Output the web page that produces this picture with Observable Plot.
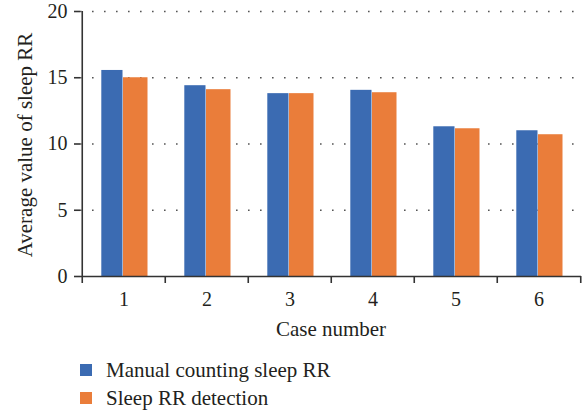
<!DOCTYPE html>
<html><head><meta charset="utf-8">
<script src="https://cdn.jsdelivr.net/npm/d3@7"></script>
<script src="https://cdn.jsdelivr.net/npm/@observablehq/plot@0.6"></script>
<style>
body{margin:0;background:#fff;font-family:"Liberation Serif",serif;}
#legend{margin-left:80px;margin-top:6px;font-size:21px;line-height:28px;color:#231f20}
.item{display:flex;align-items:center;height:28px}
.sw{width:12px;height:12px;margin-right:14px}
</style></head><body>
<div id="chart"></div>
<div id="legend"></div>
<script>
const cases = ["1","2","3","4","5","6"];
const manual = [15.55, 14.4, 13.8, 14.05, 11.3, 11.0];
const detection = [15.0, 14.1, 13.8, 13.87, 11.15, 10.7];
const seriesNames = ["Manual counting sleep RR", "Sleep RR detection"];
const colors = ["#3b6bb2", "#ea7d3a"];
const yTicks = [0, 5, 10, 15, 20];
const gridTicks = [5, 10, 15, 20];
const xLabel = "Case number";
const yLabel = "Average value of sleep RR";

const data = cases.flatMap((c, i) => [
  {case: c, series: seriesNames[0], value: manual[i]},
  {case: c, series: seriesNames[1], value: detection[i]}
]);

const W = 583, ML = 80, MR = 2;
const bw = (W - ML - MR) / cases.length;
const axisColor = "#333";

const chart = Plot.plot({
  width: W, height: 350,
  marginLeft: ML, marginRight: MR, marginTop: 11, marginBottom: 74,
  style: {fontFamily: "Liberation Serif", fontSize: "20px", color: "#231f20", background: "#fff"},
  x: {domain: cases, padding: 0},
  y: {domain: [0, 20]},
  color: {domain: seriesNames, range: colors},
  marks: [
    Plot.ruleY(gridTicks, {stroke: "#555", strokeWidth: 1.6, strokeDasharray: "1.6 10.4"}),
    Plot.barY(data.filter(d => d.series === seriesNames[0]), {x: "case", y: "value", fill: "series", insetLeft: 19.3, insetRight: 42.5}),
    Plot.barY(data.filter(d => d.series === seriesNames[1]), {x: "case", y: "value", fill: "series", insetLeft: 41, insetRight: 17.5}),
    Plot.ruleY([0], {stroke: axisColor, strokeWidth: 1.6}),
    Plot.ruleX(cases, {x: d => d, dx: -bw / 2, y1: 0, y2: -0.53, stroke: axisColor, strokeWidth: 1.6}),
    Plot.ruleX(cases.slice(-1), {x: d => d, dx: bw / 2, y1: 0, y2: -0.53, stroke: axisColor, strokeWidth: 1.6}),
    Plot.ruleX(cases.slice(0, 1), {x: d => d, dx: -bw / 2, y1: 0, y2: 20, stroke: axisColor, strokeWidth: 1.6}),
    Plot.axisY(yTicks, {tickSize: 6, tickPadding: 7, stroke: axisColor, strokeWidth: 1.6, label: null}),
    Plot.axisX({tickSize: 0, tickPadding: 15, label: null}),
    Plot.text([xLabel], {text: d => d, frameAnchor: "bottom", lineAnchor: "bottom", dy: 59, fontSize: 21, fill: "#231f20"}),
    Plot.text([yLabel], {text: d => d, frameAnchor: "left", textAnchor: "middle", lineAnchor: "middle", rotate: -90, dx: -55, dy: 1, fontSize: 21, fill: "#231f20"})
  ]
});
document.getElementById("chart").appendChild(chart);

const legend = document.getElementById("legend");
seriesNames.forEach((name, i) => {
  const item = document.createElement("div");
  item.className = "item";
  const sw = document.createElement("span");
  sw.className = "sw";
  sw.style.background = colors[i];
  const t = document.createElement("span");
  t.textContent = name;
  item.appendChild(sw); item.appendChild(t);
  legend.appendChild(item);
});
</script>
</body></html>
